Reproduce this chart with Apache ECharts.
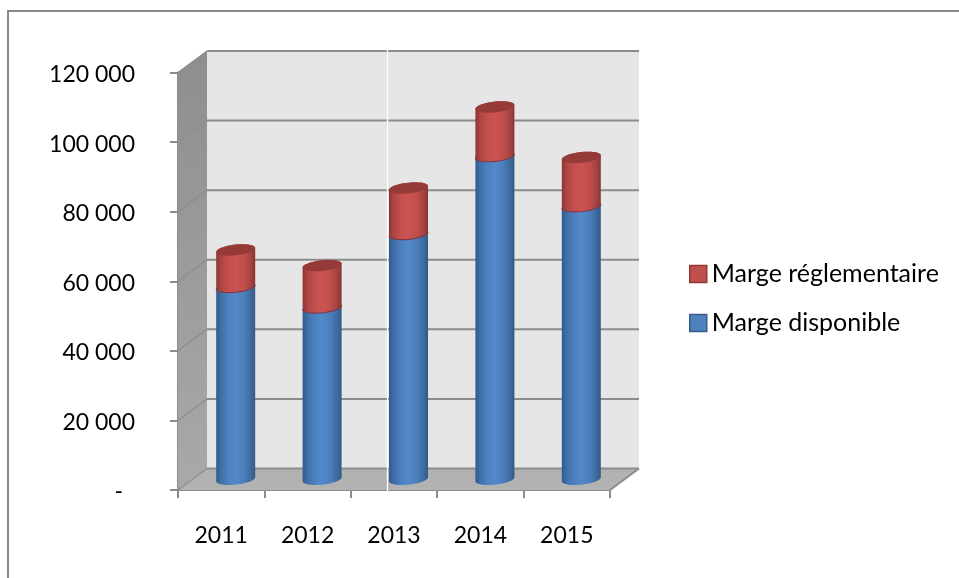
<!DOCTYPE html>
<html><head><meta charset="utf-8">
<style>html,body{margin:0;padding:0;background:#fff}#c{width:959px;height:578px}</style>
<script src="https://cdn.jsdelivr.net/npm/echarts@6/dist/echarts.min.js"></script>
</head><body><div id="c"></div>
<script>
const categories = ['2011','2012','2013','2014','2015'];
const margeDisponible = [55300,49400,70500,92900,78500];
const margeReglementaire = [10600,12000,13200,14100,14000];
const yTicks = [0,20000,40000,60000,80000,100000,120000];
const seriesNames = ['Marge disponible','Marge réglementaire'];

const DX = 29, DY = -21.5, HALF = 19.5, B = 5.4, SLOPE = -0.1;
const FONT = 'Lato, "Noto Sans", sans-serif';
const grad = (x0,y0,x1,y1,stops)=>new echarts.graphic.LinearGradient(x0,y0,x1,y1,stops.map((c,i)=>({offset:c[0],color:c[1]})));
const blueBody = ()=>grad(0,0,1,0,[[0,'#2f5b8c'],[0.12,'#3f6ea6'],[0.3,'#4c80bf'],[0.5,'#5388ca'],[0.72,'#4b7ebb'],[0.9,'#3d699c'],[1,'#315a84']]);
const redBody = ()=>grad(0,0,1,0,[[0,'#8e3634'],[0.12,'#ad4442'],[0.3,'#c34f4c'],[0.5,'#cb5451'],[0.72,'#c04e4b'],[0.9,'#a24240'],[1,'#873432']]);

function arc(cx,cy,from,to,n){
  const pts=[];
  for(let i=0;i<=n;i++){
    const t=from+(to-from)*i/n;
    pts.push([cx+HALF*Math.cos(t), cy+B*Math.sin(t)+HALF*Math.cos(t)*SLOPE]);
  }
  return pts;
}
function cylinder(bodyFill, capFill, rim){
  return function(params, api){
    const idx=api.value(0);
    const lo=api.coord([idx,api.value(1)]), hi=api.coord([idx,api.value(2)]);
    const cx=lo[0]+DX/2, yLo=lo[1]+DY/2, yHi=hi[1]+DY/2;
    const lower=arc(cx,yLo,0,Math.PI,24);
    const upper=arc(cx,yHi,Math.PI,2*Math.PI,24);
    const kids=[{type:'polygon',shape:{points:lower.concat(upper)},style:{fill:bodyFill()}}];
    if(capFill){
      kids.push({type:'polygon',shape:{points:arc(cx,yHi,0,2*Math.PI,48)},style:{fill:capFill}});
    }
    if(rim){
      kids.push({type:'polyline',shape:{points:lower},style:{fill:null,stroke:rim,lineWidth:1.2}});
    }
    return {type:'group',children:kids};
  };
}
function walls(params, api){
  const g=params.coordSys, x0=g.x, x1=g.x+g.width, yB=g.y+g.height;
  const yTop=api.coord([0,yTicks[yTicks.length-1]])[1];
  const kids=[
    {type:'polygon',shape:{points:[[x0+DX,yTop+DY],[x1+DX,yTop+DY],[x1+DX,yB+DY],[x0+DX,yB+DY]]},style:{fill:'#e6e6e6'}},
    {type:'polygon',shape:{points:[[x0,yB],[x0,yTop],[x0+DX,yTop+DY],[x0+DX,yB+DY]]},style:{fill:grad(0,0,0,1,[[0,'#8e8e8e'],[1,'#a9a9a9']])}},
    {type:'polygon',shape:{points:[[x0,yB],[x1,yB],[x1+DX,yB+DY],[x0+DX,yB+DY]]},style:{fill:'#b2b2b2'}}
  ];
  yTicks.forEach(v=>{
    const y=api.coord([0,v])[1];
    kids.push({type:'line',shape:{x1:x0+DX,y1:y+DY,x2:x1+DX,y2:y+DY},style:{stroke:'#8c8c8c',lineWidth:2}});
    kids.push({type:'line',shape:{x1:x0,y1:y,x2:x0+DX,y2:y+DY},style:{stroke:'#8c8c8c',lineWidth:1.2}});
  });
  kids.push({type:'line',shape:{x1:x1,y1:yB,x2:x1+DX,y2:yB+DY},style:{stroke:'#8c8c8c',lineWidth:2}});
  return {type:'group',children:kids};
}

const chart=echarts.init(document.getElementById('c'),null,{renderer:'canvas'});
chart.setOption({
  animation:false,
  backgroundColor:'#fff',
  textStyle:{fontFamily:FONT},
  grid:{left:178,top:72.5,width:432,height:417.5,containLabel:false},
  legend:{
    orient:'vertical',left:689,top:261,padding:0,itemWidth:17,itemHeight:17,itemGap:23,
    icon:'rect',selectedMode:false,
    textStyle:{fontFamily:FONT,fontSize:25,lineHeight:26,color:'#000'},
    data:[
      {name:seriesNames[1],itemStyle:{color:'#c0504d',borderColor:'#953735',borderWidth:1.5}},
      {name:seriesNames[0],itemStyle:{color:'#4f81bd',borderColor:'#385d8a',borderWidth:1.5}}
    ]
  },
  xAxis:{type:'category',data:categories,
    axisLine:{lineStyle:{color:'#8c8c8c',width:2}},
    axisTick:{show:true,length:8,alignWithLabel:false,lineStyle:{color:'#8c8c8c',width:2}},
    axisLabel:{color:'#000',fontSize:23,fontFamily:FONT,margin:34},
    splitLine:{show:false}},
  yAxis:{type:'value',min:0,max:120000,interval:20000,
    axisLine:{show:true,lineStyle:{color:'#8c8c8c',width:2}},
    axisTick:{show:true,length:8,lineStyle:{color:'#8c8c8c',width:2}},
    splitLine:{show:false},
    axisLabel:{color:'#000',fontSize:23,fontFamily:FONT,margin:43,padding:[4,0,0,0],
      formatter:v=>v===0?'{d|-}':String(v).replace(/\B(?=(\d{3})+$)/g,' '),
      rich:{d:{fontSize:23,fontFamily:FONT,color:'#000',padding:[0,12,0,0]}}}},
  series:[
    {type:'custom',name:'walls',silent:true,z:1,clip:false,data:[[0]],renderItem:walls,legendHoverLink:false},
    {type:'custom',name:seriesNames[0],z:3,clip:false,itemStyle:{color:'#4f81bd'},
      encode:{x:0,y:2},
      data:margeDisponible.map((v,i)=>[i,0,v]),
      renderItem:cylinder(blueBody,null,null)},
    {type:'custom',name:seriesNames[1],z:4,clip:false,itemStyle:{color:'#c0504d'},
      encode:{x:0,y:2},
      data:margeReglementaire.map((v,i)=>[i,margeDisponible[i],margeDisponible[i]+v]),
      renderItem:cylinder(redBody,'#953a38','#7d3a4a')}
  ],
  graphic:[
    {type:'polyline',z:10,silent:true,shape:{points:[[8,578],[8,11],[959,11]]},style:{fill:null,stroke:'#8a8a8a',lineWidth:2}},
    {type:'line',z:10,silent:true,shape:{x1:387.5,y1:12,x2:387.5,y2:493},style:{stroke:'#fff',lineWidth:1.3}}
  ]
});
</script></body></html>
